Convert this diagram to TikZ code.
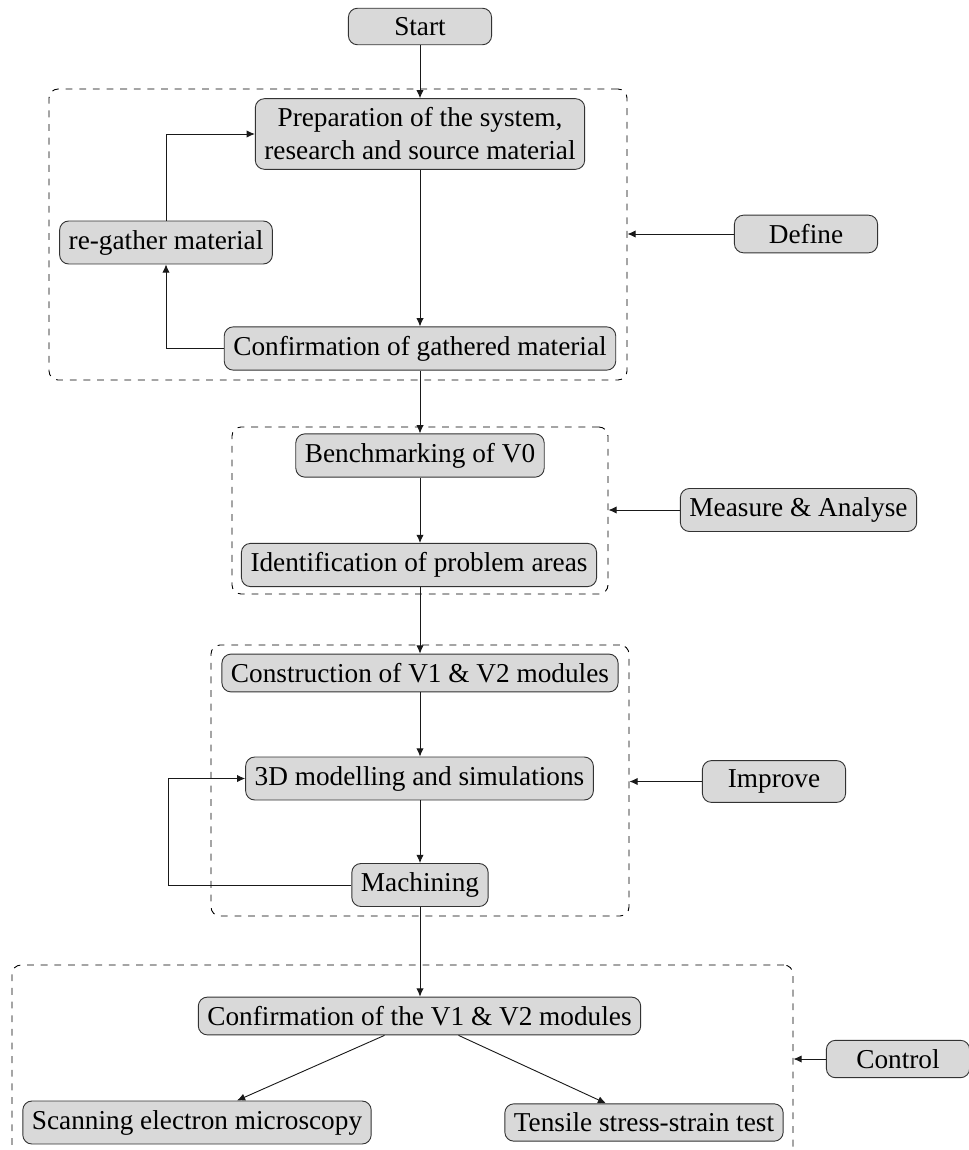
\documentclass[tikz,border=0pt]{standalone}
\usepackage{fontspec}
\setmainfont{Liberation Serif}
\usetikzlibrary{arrows.meta,calc}
\newdimen\px \px=0.44pt
\tikzset{
  box/.style={draw=black!80, fill=gray!30, rounded corners=4pt, inner sep=4pt,
    font=\fontsize{12}{14.5}\selectfont, align=center},
  sidebox/.style={box, minimum width=63pt},
  group/.style={draw=black, dashed, rounded corners=4pt, inner sep=0pt},
  arr/.style={-{Latex[length=3.6pt,width=3.2pt]}, draw=black!90},
}
\begin{document}
\begin{tikzpicture}[x=0.44pt,y=-0.44pt]
\useasboundingbox (0,0) rectangle (968,1150);
% groups
\node[group, minimum width=578\px, minimum height=291\px] (g1) at (338,234.5) {};
\node[group, minimum width=376\px, minimum height=167\px] (g2) at (420,510.5) {};
\node[group, minimum width=418\px, minimum height=271\px] (g3) at (420,780.5) {};
\node[group, minimum width=781\px, minimum height=193\px] (g4) at (402.5,1061.5) {};
% nodes
\node[sidebox] (start) at (420,26.5) {Start};
\node[box] (prep) at (420,134) {Preparation of the system,\\research and source material};
\node[box] (regather) at (166,242.5) {re-gather material};
\node[box] (conf1) at (420,348.5) {Confirmation of gathered material};
\node[sidebox] (define) at (806,234) {Define};
\node[box] (bench) at (420,455.5) {Benchmarking of V0};
\node[box] (ident) at (419,565) {Identification of problem areas};
\node[box] (measure) at (798.5,510) {Measure \& Analyse};
\node[box] (constr) at (420,673) {Construction of V1 \& V2 modules};
\node[box] (model) at (419.5,778.5) {3D modelling and simulations};
\node[box] (mach) at (420,885) {Machining};
\node[sidebox] (improve) at (774,781.5) {Improve};
\node[box] (conf2) at (419.5,1016) {Confirmation of the V1 \& V2 modules};
\node[box] (scan) at (197,1122.5) {Scanning electron microscopy};
\node[box] (tensile) at (644,1122.5) {Tensile stress-strain test};
\node[sidebox] (control) at (898,1059) {Control};
% chain
\draw[arr] (start.south) -- (prep.north);
\draw[arr] (prep.south) -- (prep.south |- conf1.north);
\draw[arr] (prep.south |- conf1.south) -- (bench.north);
\draw[arr] (bench.south) -- (bench.south |- ident.north);
\draw[arr] (bench.south |- ident.south) -- (constr.north);
\draw[arr] (constr.south) -- (constr.south |- model.north);
\draw[arr] (constr.south |- model.south) -- (mach.north);
\draw[arr] (mach.south) -- (mach.south |- conf2.north);
% loops
\draw[arr] (conf1.west) -| (regather.south);
\draw[arr] (regather.north) |- (prep.west);
\coordinate (lp) at (168,885);
\draw[arr] (mach.west) -- (mach.west -| lp) |- (model.west);
% side arrows
\draw[arr] (define.west) -- (define.west -| g1.east);
\draw[arr] (measure.west) -- (measure.west -| g2.east);
\draw[arr] (improve.west) -- (improve.west -| g3.east);
\draw[arr] (control.west) -- (control.west -| g4.east);
% split
\draw[arr] ($(conf2.south)+(-35,0)$) -- ($(scan.north)+(40,0)$);
\draw[arr] ($(conf2.south)+(39,0)$) -- ($(tensile.north)+(-38,0)$);
\end{tikzpicture}
\end{document}
